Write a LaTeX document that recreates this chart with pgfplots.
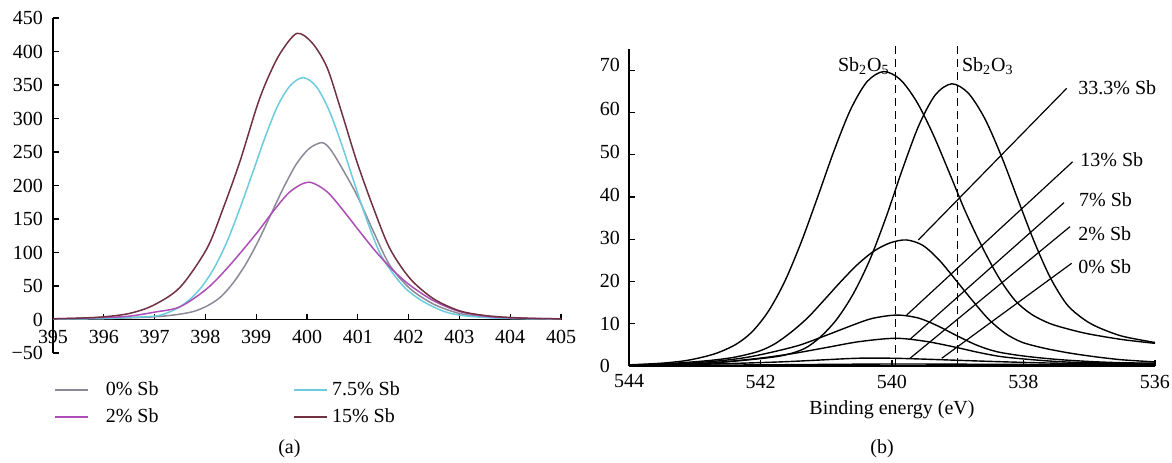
\documentclass[border=0pt]{standalone}
\usepackage{fontspec}
\setmainfont{Liberation Serif}
\usepackage{pgfplots}
\pgfplotsset{compat=1.18}
\definecolor{cgray}{RGB}{140,138,152}
\definecolor{cmag}{RGB}{172,78,182}
\definecolor{ccyan}{RGB}{108,204,222}
\definecolor{cbrown}{RGB}{112,50,66}
\begin{document}
\begin{tikzpicture}[x=1pt,y=1pt]
\path[use as bounding box] (0,0) rectangle (586,231);
% ---------------- panel (a)
\begin{axis}[
  at={(26.5pt,54.5pt)}, anchor=south west,
  scale only axis, width=254pt, height=167.5pt,
  xmin=395, xmax=405, ymin=-50, ymax=450,
  axis x line=middle, axis y line=left,
  axis line style={-, line width=0.9pt},
  hide obscured x ticks=false, hide obscured y ticks=false,
  xtick={395,396,...,405},
  ytick={-50,0,50,...,450},
  yticklabels={−50,0,50,100,150,200,250,300,350,400,450},
  tick align=inside, major tick length=3pt,
  tick style={black, line width=0.6pt},
  /pgf/number format/assume math mode=true,
  tick label style={font=\fontsize{10}{12}\selectfont},
  xticklabel style={yshift=-2pt},
  yticklabel style={xshift=-1.5pt},
  legend columns=2,
  legend cell align=left,
  legend image code/.code={\draw[#1] (0pt,0pt) -- (16.5pt,0pt);},
  legend style={draw=none, fill=none, at={(axis description cs:-0.01,-0.06)},
    anchor=north west, font=\fontsize{10}{12}\selectfont,
    /tikz/every even column/.append style={column sep=65.5pt},
    row sep=1pt},
]
\addplot[cgray, line width=0.75pt, smooth, tension=0.5] coordinates {
(395,0.5) (396,1.5) (396.5,2.5) (397,4) (397.29,6) (397.54,8.5) (397.79,12.5)
(398.04,20.5) (398.29,33) (398.54,54) (398.79,82) (399.04,117) (399.29,157)
(399.54,197) (399.79,232) (400.04,255) (400.29,264) (400.45,255) (400.65,231)
(400.98,186) (401.31,131) (401.63,81) (402.03,46) (402.49,23) (403,9)
(403.5,4) (404,2) (404.5,1) (405,0.5)};
\addlegendentry{\hspace{6.5pt}0\% Sb}
\addplot[ccyan, line width=0.75pt, smooth, tension=0.5] coordinates {
(395,0.5) (396,1.5) (396.5,3) (397,5) (397.18,8) (397.43,16) (397.68,29)
(397.93,49) (398.18,78) (398.43,117) (398.68,166) (398.93,219) (399.18,273)
(399.43,320) (399.68,350) (399.93,361) (400.18,348) (400.43,313) (400.68,262)
(400.93,204) (401.18,148) (401.43,100) (401.68,70) (401.93,47) (402.18,32)
(402.43,21) (402.7,12) (403,6.5) (403.5,3) (404,1.5) (405,0.5)};
\addlegendentry{7.5\% Sb}
\addplot[cmag, line width=0.75pt, smooth, tension=0.5] coordinates {
(395,1) (396,3) (396.5,5) (397,11) (397.5,19) (398.03,46) (398.48,81)
(399.01,129) (399.34,162) (399.67,191) (400.03,205) (400.39,191) (400.71,163)
(401.04,131) (401.37,100) (401.7,73) (402.03,51) (402.49,28) (403,12)
(403.5,5) (404,2.5) (405,1)};
\addlegendentry{\hspace{6.5pt}2\% Sb}
\addplot[cbrown, line width=0.75pt, smooth, tension=0.5] coordinates {
(395,1) (395.5,2) (396,4) (396.5,9) (396.97,21) (397.5,48) (398.03,106)
(398.35,166) (398.68,236) (399.01,317) (399.21,357) (399.47,397) (399.8,427)
(400.1,413) (400.39,377) (400.65,317) (400.98,236) (401.31,166) (401.63,106)
(402.03,61) (402.49,31) (403,13) (403.5,6) (404,3) (404.5,1.5) (405,1)};
\addlegendentry{15\% Sb}
\end{axis}
% ---------------- panel (b)
\begin{axis}[
  at={(314.5pt,48.15pt)}, anchor=south west,
  scale only axis, width=263pt, height=158.25pt,
  xmin=536, xmax=544, x dir=reverse, ymin=0, ymax=75,
  axis x line=bottom, axis y line=left,
  axis line style={-, line width=0.8pt},
  xtick={536,538,540,542,544},
  ytick={0,10,...,70},
  yticklabels={0,10,20,\raisebox{1.2pt}{30},\raisebox{2pt}{40},\raisebox{3pt}{50},\raisebox{4pt}{60},\raisebox{5pt}{70}},
  tick align=inside, major tick length=3pt,
  tick style={black, line width=0.6pt},
  /pgf/number format/assume math mode=true,
  tick label style={font=\fontsize{10}{12}\selectfont},
  xticklabel style={yshift=-1pt},
  yticklabel style={text width=10pt, align=left, xshift=-1pt},
  xlabel={Binding energy (eV)},
  xlabel style={at={(axis description cs:0.5,-0.14)}, anchor=center, font=\fontsize{10}{12}\selectfont},
  clip=false,
]
% Sb2O5-like large peak
\addplot[black, mark=none, line width=0.7pt, smooth, tension=0.5] coordinates {
(544,0.2) (543.5,0.6) (543.1,1.3) (542.7,2.8) (542.38,5.0) (542.13,8.0)
(541.88,12.9) (541.63,20.0) (541.38,29.3) (541.13,40.0) (540.88,51.0)
(540.63,60.7) (540.38,67.3) (540.13,69.7) (539.88,67.9) (539.63,62.7)
(539.38,55.0) (539.13,45.8) (538.88,36.4) (538.63,28.2) (538.38,21.0)
(538.13,15.5) (537.88,12.2) (537.6,10.0) (537.3,8.6) (537.0,7.5) (536.5,6.2) (536,5.3)};
% Sb2O3-like large peak
\addplot[black, mark=none, line width=0.7pt, smooth, tension=0.5] coordinates {
(544,0.1) (543,0.4) (542.31,1.2) (541.7,2.3) (541.34,4.0) (541.09,6.8)
(540.84,11) (540.59,17) (540.34,25) (540.09,35.2) (539.84,46.6) (539.59,57)
(539.34,64.2) (539.09,66.8) (538.84,64.6) (538.59,58.6) (538.34,49.8)
(538.09,39.6) (537.84,29.5) (537.59,20.8) (537.34,14.5) (537.1,11.2)
(536.88,9.2) (536.5,7.0) (536,5.5)};
% 33.3% Sb
\addplot[black, mark=none, line width=0.7pt, smooth, tension=0.5] coordinates {
(544,0.15) (543.4,0.5) (542.8,1.2) (542.4,2.0) (542.03,3.4) (541.78,5.2)
(541.53,8.0) (541.28,11.4) (541.03,15.6) (540.78,19.9) (540.53,23.9)
(540.28,27.1) (540.03,29.1) (539.78,29.8) (539.53,28.5) (539.28,25.0)
(539.03,20.3) (538.78,15.5) (538.53,11.0) (538.28,7.7) (538.03,5.6)
(537.7,4.2) (537.3,3.0) (536.9,2.1) (536.5,1.4) (536,0.9)};
% 13% Sb
\addplot[black, mark=none, line width=0.7pt, smooth, tension=0.5] coordinates {
(544,0.1) (543.2,0.5) (542.6,1.2) (542.2,2.0) (541.8,3.3) (541.4,4.9)
(541.0,7.2) (540.6,9.6) (540.3,11.2) (539.93,12.0) (539.6,11.3) (539.3,9.4)
(539.0,7.0) (538.7,4.8) (538.4,3.3) (538.0,2.3) (537.5,1.5) (537,1.0)
(536.5,0.7) (536,0.6)};
% 7% Sb
\addplot[black, mark=none, line width=0.7pt, smooth, tension=0.5] coordinates {
(544,0.1) (543,0.5) (542.5,1.0) (542,1.8) (541.5,2.9) (541.0,4.3) (540.5,5.7)
(539.95,6.5) (539.5,5.8) (539.07,4.5) (538.7,3.2) (538.36,2.2) (538,1.6)
(537.5,1.0) (537,0.7) (536,0.5)};
% 2% Sb
\addplot[black, mark=none, line width=0.7pt, smooth, tension=0.5] coordinates {
(544,0.1) (543,0.3) (541.7,0.9) (540.64,1.7) (540.3,1.8) (539.8,1.7) (538.46,1.0)
(537.5,0.6) (536,0.3)};
% 0% Sb
\addplot[black, mark=none, line width=0.7pt, smooth, tension=0.5] coordinates {
(544,0.05) (542,0.2) (540,0.4) (538,0.3) (536,0.2)};
% reference lines and labels
\draw[dash pattern=on 4pt off 2.5pt, line width=0.6pt] (axis cs:539.95,0) -- (axis cs:539.95,76.4);
\draw[dash pattern=on 4pt off 2.5pt, line width=0.6pt] (axis cs:539.0,0) -- (axis cs:539.0,76.4);
\node[anchor=base east, inner sep=0pt, font=\fontsize{10}{12}\selectfont] at (axis cs:540.03,69.6) {Sb\textsubscript{2}O\textsubscript{5}};
\node[anchor=base west, inner sep=0pt, font=\fontsize{10}{12}\selectfont] at (axis cs:538.94,69.7) {Sb\textsubscript{2}O\textsubscript{3}};
\draw[line width=0.6pt] (axis cs:537.343,65.73) -- (axis cs:539.600,29.79);
\draw[line width=0.6pt] (axis cs:537.252,48.34) -- (axis cs:539.776,12.01);
\draw[line width=0.6pt] (axis cs:537.384,38.63) -- (axis cs:539.726,6.26);
\draw[line width=0.6pt] (axis cs:537.293,32.94) -- (axis cs:539.726,1.75);
\draw[line width=0.6pt] (axis cs:537.267,24.27) -- (axis cs:539.244,1.75);
\node[anchor=west, inner sep=0pt, font=\fontsize{10}{12}\selectfont] at (axis cs:537.17,65.9) {33.3\% Sb};
\node[anchor=west, inner sep=0pt, font=\fontsize{10}{12}\selectfont] at (axis cs:537.14,48.9) {13\% Sb};
\node[anchor=west, inner sep=0pt, font=\fontsize{10}{12}\selectfont] at (axis cs:537.16,39.3) {7\% Sb};
\node[anchor=west, inner sep=0pt, font=\fontsize{10}{12}\selectfont] at (axis cs:537.17,31.4) {2\% Sb};
\node[anchor=west, inner sep=0pt, font=\fontsize{10}{12}\selectfont] at (axis cs:537.17,23.5) {0\% Sb};
\end{axis}
\node[font=\fontsize{10}{12}\selectfont] at (144.7,6.5) {(a)};
\node[font=\fontsize{10}{12}\selectfont] at (441,6.5) {(b)};
\end{tikzpicture}
\end{document}
